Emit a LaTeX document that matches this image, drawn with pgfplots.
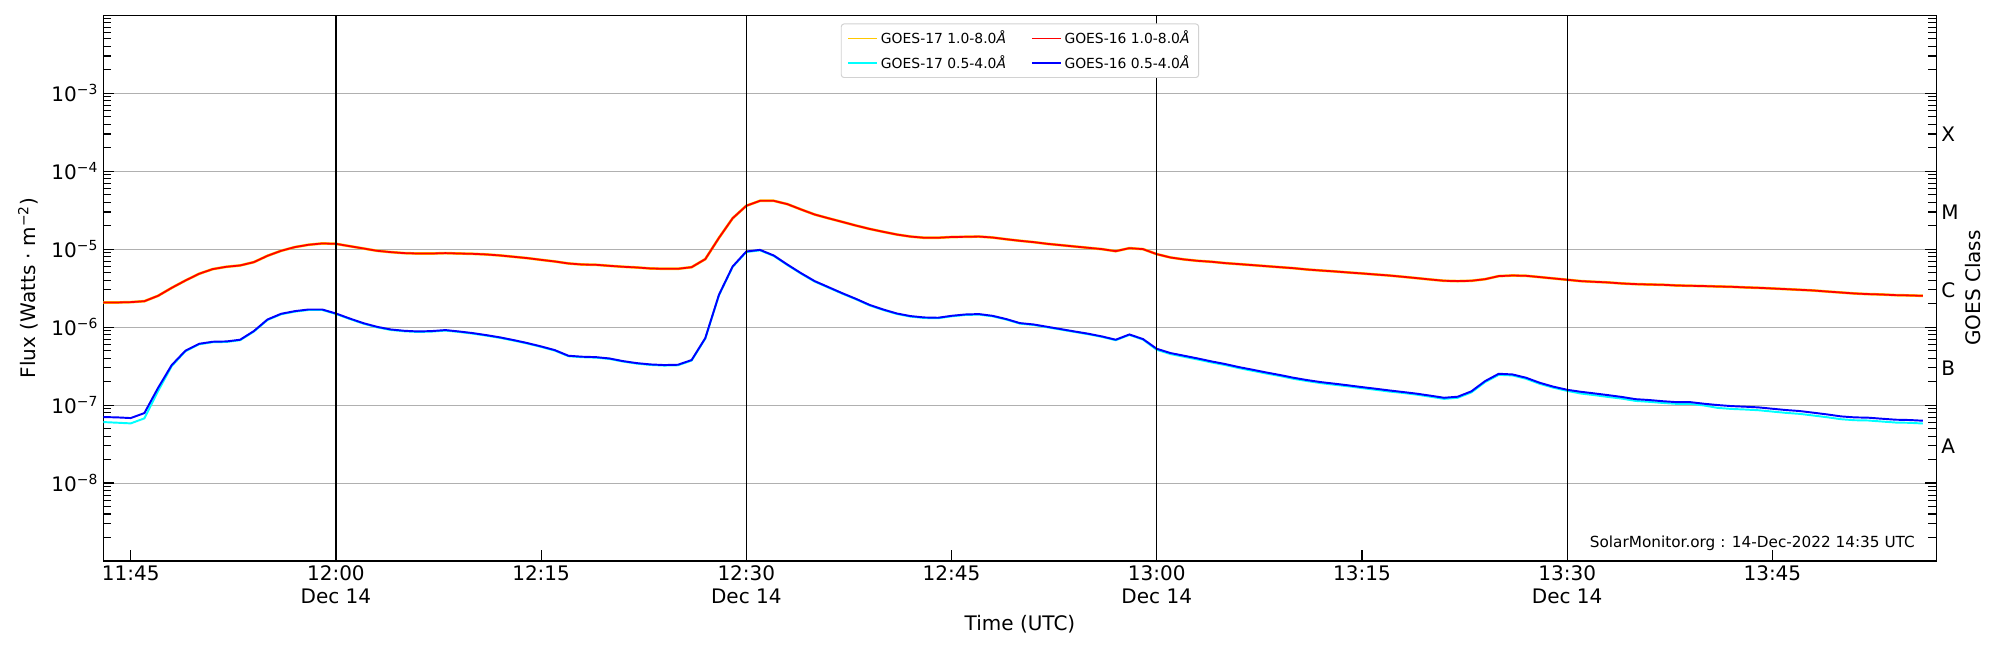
\documentclass[border=0pt]{standalone}
\usepackage{fontspec}
\setmainfont{DejaVu Sans}
\usepackage{pgfplots}
\usepackage{pgfplotstable}
\pgfplotsset{compat=1.18}
\definecolor{goesorange}{RGB}{255,200,0}
\definecolor{gcyan}{RGB}{0,255,255}
\definecolor{gred}{RGB}{255,0,0}
\definecolor{gblue}{RGB}{0,0,255}
\definecolor{gridgray}{RGB}{176,176,176}
\definecolor{legendgray}{RGB}{210,210,210}

\pgfplotstableread{
t f
-17 2.07e-6
-16 2.07e-6
-15 2.09e-6
-14 2.15e-6
-13 2.52e-6
-12 3.19e-6
-11 3.96e-6
-10 4.83e-6
-9 5.55e-6
-8 5.94e-6
-7 6.18e-6
-6 6.81e-6
-5 8.22e-6
-4 9.53e-6
-3 1.062e-5
-2 1.138e-5
-1 1.183e-5
0 1.17e-5
1 1.092e-5
2 1.021e-5
3 9.53e-6
4 9.16e-6
5 8.89e-6
6 8.79e-6
7 8.79e-6
8 8.89e-6
9 8.79e-6
10 8.71e-6
11 8.55e-6
12 8.30e-6
13 7.98e-6
14 7.67e-6
15 7.29e-6
16 6.95e-6
17 6.55e-6
18 6.35e-6
19 6.30e-6
20 6.11e-6
21 5.94e-6
22 5.82e-6
23 5.65e-6
24 5.60e-6
25 5.60e-6
26 5.87e-6
27 7.45e-6
28 1.396e-5
29 2.49e-5
30 3.60e-5
31 4.17e-5
32 4.17e-5
33 3.78e-5
34 3.23e-5
35 2.78e-5
36 2.49e-5
37 2.24e-5
38 2.01e-5
39 1.82e-5
40 1.67e-5
41 1.54e-5
42 1.45e-5
43 1.40e-5
44 1.40e-5
45 1.43e-5
46 1.44e-5
47 1.45e-5
48 1.41e-5
49 1.34e-5
50 1.28e-5
51 1.23e-5
52 1.17e-5
53 1.125e-5
54 1.081e-5
55 1.04e-5
56 1.0e-5
57 9.42e-6
58 1.03e-5
59 1.0e-5
60 8.63e-6
61 7.82e-6
62 7.38e-6
63 7.08e-6
64 6.89e-6
65 6.62e-6
66 6.43e-6
67 6.24e-6
68 6.05e-6
69 5.87e-6
70 5.70e-6
71 5.48e-6
72 5.32e-6
73 5.18e-6
74 5.02e-6
75 4.88e-6
76 4.73e-6
77 4.59e-6
78 4.42e-6
79 4.25e-6
80 4.08e-6
81 3.93e-6
82 3.89e-6
83 3.93e-6
84 4.12e-6
85 4.51e-6
86 4.59e-6
87 4.55e-6
88 4.38e-6
89 4.21e-6
90 4.05e-6
91 3.89e-6
92 3.81e-6
93 3.74e-6
94 3.63e-6
95 3.56e-6
96 3.52e-6
97 3.49e-6
98 3.42e-6
99 3.39e-6
100 3.36e-6
101 3.32e-6
102 3.29e-6
103 3.23e-6
104 3.19e-6
105 3.13e-6
106 3.07e-6
107 3.01e-6
108 2.95e-6
109 2.86e-6
110 2.78e-6
111 2.70e-6
112 2.65e-6
113 2.62e-6
114 2.57e-6
115 2.55e-6
116 2.52e-6
}\redtab

\pgfplotstableread{
t f
-17 7.02e-8
-16 6.95e-8
-15 6.81e-8
-14 7.89e-8
-13 1.66e-7
-12 3.26e-7
-11 4.98e-7
-10 6.11e-7
-9 6.49e-7
-8 6.55e-7
-7 6.89e-7
-6 8.89e-7
-5 1.253e-6
-4 1.483e-6
-3 1.603e-6
-2 1.683e-6
-1 1.683e-6
0 1.496e-6
1 1.291e-6
2 1.125e-6
3 1.009e-6
4 9.33e-7
5 8.97e-7
6 8.79e-7
7 8.89e-7
8 9.16e-7
9 8.79e-7
10 8.38e-7
11 7.89e-7
12 7.38e-7
13 6.81e-7
14 6.24e-7
15 5.65e-7
16 5.07e-7
17 4.29e-7
18 4.17e-7
19 4.12e-7
20 3.96e-7
21 3.66e-7
22 3.45e-7
23 3.32e-7
24 3.26e-7
25 3.29e-7
26 3.78e-7
27 7.23e-7
28 2.60e-6
29 6.00e-6
30 9.33e-6
31 9.79e-6
32 8.30e-6
33 6.35e-6
34 4.92e-6
35 3.89e-6
36 3.26e-6
37 2.73e-6
38 2.31e-6
39 1.93e-6
40 1.683e-6
41 1.496e-6
42 1.384e-6
43 1.33e-6
44 1.318e-6
45 1.396e-6
46 1.452e-6
47 1.469e-6
48 1.396e-6
49 1.268e-6
50 1.125e-6
51 1.081e-6
52 1.009e-6
53 9.42e-7
54 8.79e-7
55 8.22e-7
56 7.59e-7
57 6.89e-7
58 8.05e-7
59 7.02e-7
60 5.27e-7
61 4.65e-7
62 4.29e-7
63 3.96e-7
64 3.63e-7
65 3.36e-7
66 3.07e-7
67 2.84e-7
68 2.62e-7
69 2.43e-7
70 2.24e-7
71 2.09e-7
72 1.97e-7
73 1.88e-7
74 1.79e-7
75 1.70e-7
76 1.62e-7
77 1.54e-7
78 1.47e-7
79 1.40e-7
80 1.32e-7
81 1.24e-7
82 1.28e-7
83 1.50e-7
84 2.03e-7
85 2.52e-7
86 2.47e-7
87 2.24e-7
88 1.93e-7
89 1.72e-7
90 1.57e-7
91 1.48e-7
92 1.41e-7
93 1.34e-7
94 1.27e-7
95 1.19e-7
96 1.16e-7
97 1.12e-7
98 1.09e-7
99 1.09e-7
100 1.04e-7
101 1.0e-7
102 9.70e-8
103 9.53e-8
104 9.33e-8
105 8.97e-8
106 8.63e-8
107 8.38e-8
108 7.98e-8
109 7.59e-8
110 7.16e-8
111 6.95e-8
112 6.89e-8
113 6.68e-8
114 6.49e-8
115 6.43e-8
116 6.30e-8
}\bluetab

\pgfplotstableread{
t f
-17 6.05e-8
-16 5.94e-8
-15 5.82e-8
-14 6.75e-8
-13 1.51e-7
-12 3.16e-7
-11 4.90e-7
-10 6.02e-7
-9 6.40e-7
-8 6.45e-7
-7 6.79e-7
-6 8.76e-7
-5 1.234e-6
-4 1.461e-6
-3 1.579e-6
-2 1.658e-6
-1 1.658e-6
0 1.474e-6
1 1.272e-6
2 1.108e-6
3 9.94e-7
4 9.19e-7
5 8.84e-7
6 8.66e-7
7 8.76e-7
8 9.02e-7
9 8.66e-7
10 8.25e-7
11 7.77e-7
12 7.27e-7
13 6.71e-7
14 6.15e-7
15 5.57e-7
16 4.99e-7
17 4.23e-7
18 4.11e-7
19 4.06e-7
20 3.90e-7
21 3.61e-7
22 3.40e-7
23 3.27e-7
24 3.21e-7
25 3.24e-7
26 3.72e-7
27 7.12e-7
28 2.56e-6
29 5.91e-6
30 9.19e-6
31 9.64e-6
32 8.18e-6
33 6.25e-6
34 4.85e-6
35 3.83e-6
36 3.21e-6
37 2.69e-6
38 2.28e-6
39 1.90e-6
40 1.658e-6
41 1.474e-6
42 1.363e-6
43 1.310e-6
44 1.298e-6
45 1.375e-6
46 1.430e-6
47 1.447e-6
48 1.375e-6
49 1.249e-6
50 1.108e-6
51 1.065e-6
52 9.94e-7
53 9.28e-7
54 8.66e-7
55 8.10e-7
56 7.48e-7
57 6.79e-7
58 7.93e-7
59 6.91e-7
60 5.11e-7
61 4.51e-7
62 4.16e-7
63 3.84e-7
64 3.52e-7
65 3.26e-7
66 2.98e-7
67 2.75e-7
68 2.54e-7
69 2.36e-7
70 2.17e-7
71 2.03e-7
72 1.91e-7
73 1.82e-7
74 1.74e-7
75 1.65e-7
76 1.57e-7
77 1.49e-7
78 1.43e-7
79 1.36e-7
80 1.28e-7
81 1.20e-7
82 1.24e-7
83 1.455e-7
84 1.97e-7
85 2.44e-7
86 2.40e-7
87 2.17e-7
88 1.87e-7
89 1.67e-7
90 1.52e-7
91 1.406e-7
92 1.34e-7
93 1.27e-7
94 1.21e-7
95 1.13e-7
96 1.10e-7
97 1.064e-7
98 1.036e-7
99 1.036e-7
100 9.88e-8
101 9.2e-8
102 8.92e-8
103 8.77e-8
104 8.58e-8
105 8.25e-8
106 7.94e-8
107 7.71e-8
108 7.34e-8
109 6.98e-8
110 6.59e-8
111 6.39e-8
112 6.34e-8
113 6.15e-8
114 5.97e-8
115 5.92e-8
116 5.80e-8
}\cyantab

\begin{document}
\begin{tikzpicture}
\useasboundingbox (0,0) rectangle (1440pt,468pt);
\begin{axis}[
  at={(74.4pt,64.1pt)}, anchor=south west,
  scale only axis, width=1319.9pt, height=392.9pt,
  ymode=log, clip=false,
  xmin=-17, xmax=117, ymin=1e-9, ymax=1e-2,
  axis line style={black, line width=0.9pt},
  tick style={black, line width=0.8pt},
  major tick length=8pt, minor tick length=5.8pt,
  tick align=inside,
  xtick pos=bottom,
  ytick pos=both,
  xtick={-15,0,15,30,45,60,75,90,105},
  xticklabels={11:45,{12:00\\Dec 14},12:15,{12:30\\Dec 14},12:45,{13:00\\Dec 14},13:15,{13:30\\Dec 14},13:45},
  xticklabel style={align=center, font=\fontsize{14.4}{16.6}\selectfont},
  minor xtick={},
  ytick={1e-8,1e-7,1e-6,1e-5,1e-4,1e-3},
  yticklabels={10\textsuperscript{−8},10\textsuperscript{−7},10\textsuperscript{−6},10\textsuperscript{−5},10\textsuperscript{−4},10\textsuperscript{−3}},
  yticklabel style={font=\fontsize{14.4}{17}\selectfont, inner xsep=3.6pt},
  minor ytick={2e-9,3e-9,4e-9,5e-9,6e-9,7e-9,8e-9,9e-9,
    2e-8,3e-8,4e-8,5e-8,6e-8,7e-8,8e-8,9e-8,
    2e-7,3e-7,4e-7,5e-7,6e-7,7e-7,8e-7,9e-7,
    2e-6,3e-6,4e-6,5e-6,6e-6,7e-6,8e-6,9e-6,
    2e-5,3e-5,4e-5,5e-5,6e-5,7e-5,8e-5,9e-5,
    2e-4,3e-4,4e-4,5e-4,6e-4,7e-4,8e-4,9e-4,
    2e-3,3e-3,4e-3,5e-3,6e-3,7e-3,8e-3,9e-3},
  ymajorgrids,
  major grid style={gridgray, line width=0.72pt},
  legend columns=2,
  legend cell align=left,
  legend style={at={(0.5,0.985)}, anchor=north, draw=legendgray, line width=0.7pt,
    rounded corners=2pt, fill=white, font=\fontsize{10}{12}\selectfont,
    inner xsep=4.5pt, inner ysep=3pt, row sep=3pt,
    /tikz/every even column/.append style={column sep=16pt}},
  legend image code/.code={\draw[#1, line width=1.1pt] (0pt,0pt) -- (21pt,0pt);},
]
\addplot[goesorange, line width=1.9pt] table[x=t,y=f]{\redtab};
\addlegendentry{GOES-17 1.0-8.0\textit{Å}}
\addplot[gred, line width=1.3pt] table[x=t,y=f]{\redtab};
\addlegendentry{GOES-16 1.0-8.0\textit{Å}}
\addplot[gcyan, line width=1.4pt] table[x=t,y=f]{\cyantab};
\addlegendentry{GOES-17 0.5-4.0\textit{Å}}
\addplot[gblue, line width=1.4pt] table[x=t,y=f]{\bluetab};
\addlegendentry{GOES-16 0.5-4.0\textit{Å}}
\addplot[black, line width=0.9pt, forget plot] coordinates {(0,1e-9) (0,1e-2)};
\addplot[black, line width=0.9pt, forget plot] coordinates {(30,1e-9) (30,1e-2)};
\addplot[black, line width=0.9pt, forget plot] coordinates {(60,1e-9) (60,1e-2)};
\addplot[black, line width=0.9pt, forget plot] coordinates {(90,1e-9) (90,1e-2)};
\node[anchor=west, inner sep=0pt, xshift=3.3pt, yshift=-1.5pt, font=\fontsize{14.4}{17}\selectfont] at (axis cs:117,3.162e-8) {A};
\node[anchor=west, inner sep=0pt, xshift=3.3pt, yshift=-1.5pt, font=\fontsize{14.4}{17}\selectfont] at (axis cs:117,3.162e-7) {B};
\node[anchor=west, inner sep=0pt, xshift=3.3pt, yshift=-1.5pt, font=\fontsize{14.4}{17}\selectfont] at (axis cs:117,3.162e-6) {C};
\node[anchor=west, inner sep=0pt, xshift=3.3pt, yshift=-1.5pt, font=\fontsize{14.4}{17}\selectfont] at (axis cs:117,3.162e-5) {M};
\node[anchor=west, inner sep=0pt, xshift=3.3pt, yshift=-1.5pt, font=\fontsize{14.4}{17}\selectfont] at (axis cs:117,3.162e-4) {X};
\node[anchor=east, inner sep=0pt, font=\fontsize{11}{13}\selectfont] at (axis description cs:0.9883,0.033) {SolarMonitor.org : 14-Dec-2022 14:35 UTC};
\end{axis}
\node[rotate=90, inner sep=0pt, font=\fontsize{14.4}{17}\selectfont] at (20.2pt,260.6pt) {Flux (Watts · m\textsuperscript{−2})};
\node[rotate=90, inner sep=0pt, font=\fontsize{14.4}{17}\selectfont] at (1420.6pt,260.6pt) {GOES Class};
\node[inner sep=0pt, font=\fontsize{14.4}{17}\selectfont] at (734.4pt,18.7pt) {Time (UTC)};
\end{tikzpicture}
\end{document}
